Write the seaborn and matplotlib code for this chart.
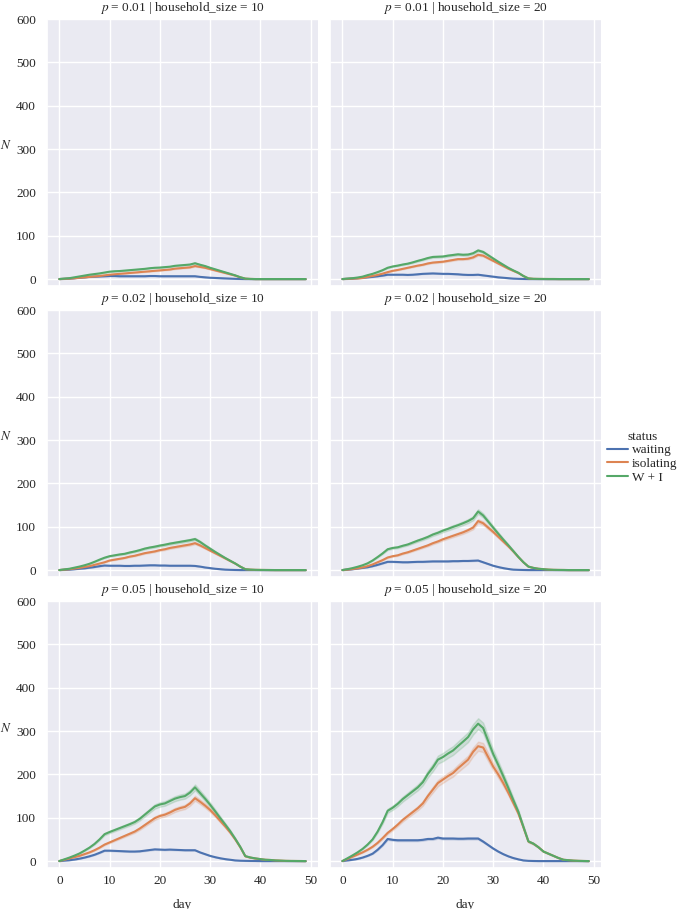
import numpy as np
import pandas as pd
import matplotlib
matplotlib.use("Agg")
import matplotlib.pyplot as plt
import seaborn as sns

# days simulated
days = list(range(50))
statuses = ["waiting", "isolating", "W + I"]

# p = 0.01, household_size = 10
waiting_001_10 = [0, 0.5, 1, 2, 3, 4, 5, 5.5, 6, 6.5,
                  7, 7, 6.5, 6.5, 6.5, 6.5, 6.5, 6.5, 7, 7,
                  6.5, 6.5, 6.5, 6.5, 6.5, 6.5, 6.5, 6.5, 5, 4,
                  3, 2.5, 2, 1.5, 1, 0.5, 0.2, 0, 0, 0,
                  0, 0, 0, 0, 0, 0, 0, 0, 0, 0]
isolating_001_10 = [0, 0.5, 1, 2, 3, 4, 5, 6, 7, 8.5,
                    10, 11, 12, 13, 14, 15, 16, 17, 18, 19,
                    20, 21, 22, 24, 25, 26, 27, 30, 28, 26,
                    23, 20, 17, 14, 11, 8, 4, 1, 0.3, 0,
                    0, 0, 0, 0, 0, 0, 0, 0, 0, 0]

# p = 0.01, household_size = 20
waiting_001_20 = [0, 0.5, 1, 2, 3, 4, 5, 6.5, 8, 10,
                  10, 10, 10, 9.5, 10, 11, 12, 12.5, 13, 12.5,
                  12, 12, 11.5, 11, 10, 9.5, 9.5, 10, 8.5, 7,
                  5.5, 4, 3, 2, 1, 0.5, 0.2, 0, 0, 0,
                  0, 0, 0, 0, 0, 0, 0, 0, 0, 0]
isolating_001_20 = [0, 0.5, 1, 1.5, 2.5, 5, 7, 9.5, 12.5, 16,
                    19, 21, 23.5, 26, 28.5, 31, 33, 36, 38, 39,
                    40, 42, 44, 46, 46, 47, 50, 56, 54, 48,
                    42, 36, 30, 24, 19, 14, 7, 1.5, 0.5, 0.3,
                    0.2, 0.1, 0.1, 0, 0, 0, 0, 0, 0, 0]

# p = 0.02, household_size = 10
waiting_002_10 = [0, 0.5, 1, 2, 3, 4, 5.5, 7, 9, 10.5,
                  10, 10, 10, 9.5, 9.5, 10, 10, 10.5, 11, 11,
                  10.5, 10.5, 10, 10, 10, 10, 10, 9.5, 8, 6,
                  4.5, 3, 2, 1, 0.5, 0.2, 0, 0, 0, 0,
                  0, 0, 0, 0, 0, 0, 0, 0, 0, 0]
isolating_002_10 = [0, 1, 2, 3.5, 5, 7, 9, 12, 15, 18,
                    22, 24, 26, 28, 31, 33, 36, 39, 41, 43,
                    46, 48, 51, 53, 55, 57, 59, 62, 57, 51,
                    45, 39, 33, 27, 21, 15, 8, 2, 1, 0.5,
                    0.3, 0.2, 0.1, 0, 0, 0, 0, 0, 0, 0]

# p = 0.02, household_size = 20
waiting_002_20 = [0, 1, 2, 3.5, 5, 6.5, 9, 12, 15.5, 19,
                  19, 18.5, 18, 18, 18.5, 19, 19, 19.5, 20, 20,
                  20, 20, 20.5, 20.5, 21, 21, 21.5, 22, 18, 14,
                  10, 7, 4.5, 2.5, 1, 0.5, 0.2, 0, 0, 0,
                  0, 0, 0, 0, 0, 0, 0, 0, 0, 0]
isolating_002_20 = [0, 1, 2.5, 4, 6, 9, 13, 18, 23, 29,
                    32, 34, 38, 41, 45, 49, 53, 57, 62, 66,
                    71, 75, 79, 83, 87, 92, 98, 113, 108, 98,
                    88, 77, 66, 55, 43, 30, 18, 8, 5, 3,
                    2, 1, 0.5, 0.3, 0.2, 0, 0, 0, 0, 0]

# p = 0.05, household_size = 10
waiting_005_10 = [0, 1, 2, 3.5, 5.5, 8, 11, 14.5, 19, 24,
                  24, 23.5, 23, 22.5, 22, 22, 22.5, 24, 25.5, 27,
                  26.5, 26, 26.5, 26, 25.5, 25, 25, 25, 20, 16,
                  12, 9, 6.5, 4.5, 3, 1.5, 0.8, 0.5, 0.3, 0.2,
                  0, 0, 0, 0, 0, 0, 0, 0, 0, 0]
isolating_005_10 = [0, 3, 6, 9, 12, 16, 20, 25, 31, 38,
                    43, 48, 53, 58, 63, 68, 75, 83, 91, 99,
                    104, 107, 112, 118, 122, 125, 133, 145, 137, 128,
                    118, 106, 93, 80, 66, 50, 32, 11, 8, 6,
                    4.5, 3, 2.5, 1.5, 1, 0.5, 0.3, 0.2, 0.1, 0]

# p = 0.05, household_size = 20
waiting_005_20 = [0, 1.5, 3, 5, 8, 12, 17, 26, 37, 51,
                  49, 48, 48, 48, 48, 48, 49, 51, 51, 54,
                  52, 52, 52, 51.5, 51.5, 52, 52, 52, 45, 37,
                  29, 22, 16, 11, 7, 4, 1.5, 0.5, 0.2, 0,
                  0, 0, 0, 0, 0, 0, 0, 0, 0, 0]
isolating_005_20 = [0, 5, 10, 15, 20, 26, 33, 42, 53, 65,
                    74, 84, 95, 104, 113, 122, 133, 150, 165, 180,
                    188, 196, 203, 214, 224, 234, 252, 265, 262, 240,
                    218, 200, 180, 158, 134, 110, 78, 45, 40, 32,
                    22, 17, 12, 7, 3, 2, 1, 0.5, 0.2, 0]

panels = [
    (0.01, 10, waiting_001_10, isolating_001_10),
    (0.01, 20, waiting_001_20, isolating_001_20),
    (0.02, 10, waiting_002_10, isolating_002_10),
    (0.02, 20, waiting_002_20, isolating_002_20),
    (0.05, 10, waiting_005_10, isolating_005_10),
    (0.05, 20, waiting_005_20, isolating_005_20),
]

# relative half-width of the shaded interval around each mean
CI_FRAC = 0.04

rows = []
for p, hs, w, iso in panels:
    w = np.array(w, dtype=float)
    iso = np.array(iso, dtype=float)
    for status, vals in zip(statuses, [w, iso, w + iso]):
        for d, v in zip(days, vals):
            for k in (-1, 0, 1):
                rows.append({"day": d, "N": v * (1 + k * CI_FRAC),
                             "status": status, "$p$": p,
                             "household_size": hs})
df = pd.DataFrame(rows)

fs = 9.5
sns.set_theme(style="darkgrid", rc={
    "font.size": fs, "axes.titlesize": fs, "axes.labelsize": fs,
    "xtick.labelsize": fs, "ytick.labelsize": fs,
    "legend.fontsize": fs, "legend.title_fontsize": fs,
    "xtick.major.pad": -1, "ytick.major.pad": 2,
})
plt.rcParams["font.family"] = ["Liberation Serif", "DejaVu Serif"]
plt.rcParams["mathtext.fontset"] = "stix"

g = sns.relplot(data=df, x="day", y="N", hue="status", hue_order=statuses,
                row="$p$", col="household_size", kind="line",
                errorbar=("pi", 100), height=3, aspect=1)

g.set(ylim=(-16, 600), yticks=[0, 100, 200, 300, 400, 500, 600],
      xticks=[0, 10, 20, 30, 40, 50])
g.set_axis_labels("day", "$N$")
for ax in g.axes[:, 0]:
    ax.yaxis.label.set_rotation(0)
    ax.yaxis.set_label_coords(-0.15, 0.5)
for ax in g.axes[-1, :]:
    ax.xaxis.labelpad = 8.5

fig = g.figure
fig.set_size_inches(6.78, 9.09)
fig.subplots_adjust(left=47 / 678, right=601 / 678, top=1 - 19 / 909,
                    bottom=1 - 868 / 909, wspace=0.045, hspace=0.09)
sns.move_legend(g, "center left", bbox_to_anchor=(595 / 678, 0.497),
                frameon=False, handlelength=1.6, handletextpad=0.3,
                labelspacing=0.1)

fig.savefig("out.png", dpi=100)
